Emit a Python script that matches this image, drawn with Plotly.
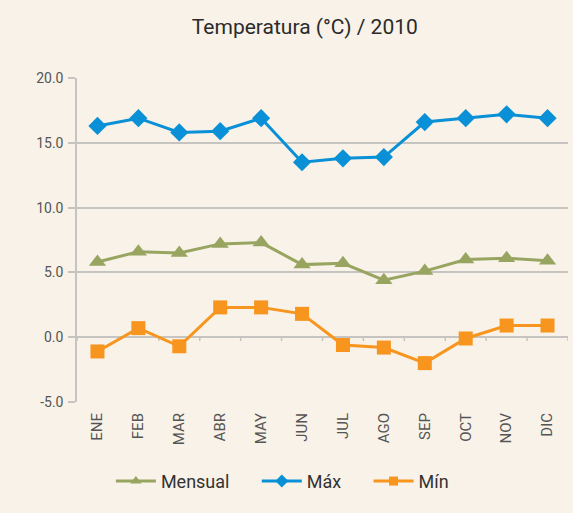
import plotly.graph_objects as go

months = ["ENE", "FEB", "MAR", "ABR", "MAY", "JUN", "JUL", "AGO", "SEP", "OCT", "NOV", "DIC"]
mensual = [5.8, 6.6, 6.5, 7.2, 7.3, 5.6, 5.7, 4.4, 5.1, 6.0, 6.1, 5.9]
maxima = [16.3, 16.9, 15.8, 15.9, 16.9, 13.5, 13.8, 13.9, 16.6, 16.9, 17.2, 16.9]
minima = [-1.1, 0.7, -0.7, 2.3, 2.3, 1.8, -0.6, -0.8, -2.0, -0.1, 0.9, 0.9]
y_ticks = [-5, 0, 5, 10, 15, 20]
y_tick_labels = ["-5.0", "0.0", "5.0", "10.0", "15.0", "20.0"]

BG = "#F8F2E8"
GREEN = "#98A560"
BLUE = "#0990D6"
ORANGE = "#F7951E"
GRID = "#C6C4C0"

series = [
    ("Mensual", mensual, GREEN, "triangle-up", 15, 10),
    ("Máx", maxima, BLUE, "diamond", 14, 10),
    ("Mín", minima, ORANGE, "square", 14, 9),
]

fig = go.Figure()
for name, vals, color, sym, size, _ in series:
    fig.add_trace(go.Scatter(x=months, y=vals, name=name, mode="lines+markers", showlegend=False,
                             line=dict(color=color, width=3),
                             marker=dict(symbol=sym, size=size, color=color)))
# legend entries (smaller symbols, extra spacing)
for idx, (name, vals, color, sym, _, lsize) in enumerate(series):
    pad = "\u00a0" * 5 if idx < len(series) - 1 else ""
    fig.add_trace(go.Scatter(x=[None], y=[None], name=name + pad, mode="lines+markers",
                             line=dict(color=color, width=3),
                             marker=dict(symbol=sym, size=lsize, color=color)))

# small tick marks on the zero line at category boundaries
for i in range(len(months) + 1):
    fig.add_shape(type="line", xref="x", yref="y", x0=i - 0.5, x1=i - 0.5, y0=0, y1=-0.3,
                  line=dict(color=GRID, width=1.5), layer="below")

fig.update_layout(
    width=573, height=513,
    paper_bgcolor=BG, plot_bgcolor=BG,
    margin=dict(l=77, r=5, t=78, b=111),
    font=dict(family="Roboto, Liberation Sans, sans-serif", color="#444"),
    title=dict(text="Temperatura (°C) / 2010", x=0.532, xanchor="center", y=0.948, yanchor="middle",
               font=dict(size=21, color="#2b2b2b")),
    showlegend=True,
    legend=dict(orientation="h", x=0.069, xanchor="left", y=-0.245, yanchor="middle",
                font=dict(size=18, color="#333"), itemwidth=40, traceorder="normal",
                bgcolor="rgba(0,0,0,0)"),
    xaxis=dict(type="category", range=[-0.5, 11.5], showgrid=False, zeroline=False,
               showline=False, tickangle=-90, ticks="", tickfont=dict(size=15, color="#555"),
               ticklabelstandoff=7),
    yaxis=dict(range=[-5, 20], tickvals=y_ticks, ticktext=y_tick_labels,
               showgrid=True, gridcolor=GRID, gridwidth=1.5,
               zeroline=False, showline=True, linecolor=GRID, linewidth=1.5,
               ticks="outside", ticklen=7, tickcolor=GRID, tickwidth=1.5,
               tickfont=dict(size=14, color="#555"), ticklabelstandoff=2),
)

fig.write_html("out.html", config={"displayModeBar": False},
               post_script="document.body.style.margin='0';document.body.style.background='%s';" % BG)
